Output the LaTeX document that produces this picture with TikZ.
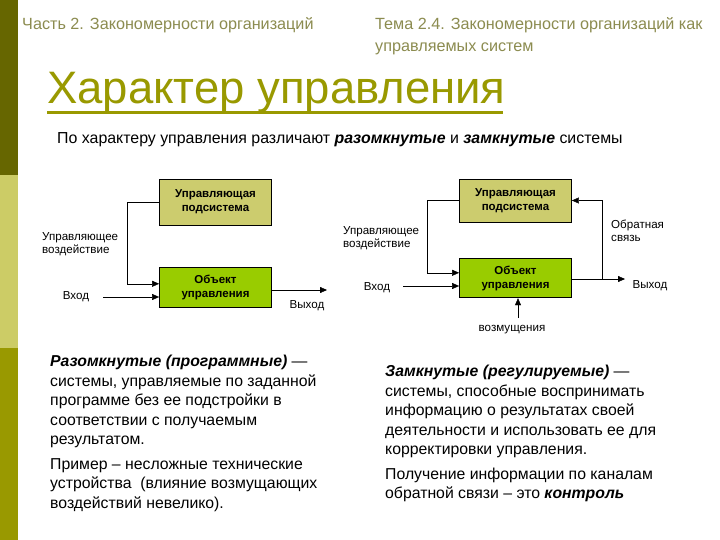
\documentclass[tikz,border=0pt]{standalone}
\usepackage{fontspec}
\setmainfont{Liberation Sans}
\usepackage{xcolor}
\usetikzlibrary{positioning,arrows.meta}
\definecolor{darkolive}{HTML}{666600}
\definecolor{paleolive}{HTML}{CCCC66}
\definecolor{midolive}{HTML}{999900}
\definecolor{boxtan}{HTML}{CCCC6E}
\definecolor{boxgreen}{HTML}{99CC00}
\definecolor{headgrey}{HTML}{8C8C50}

\begin{document}
\begin{tikzpicture}[x=1pt,y=-1pt,>={Triangle[length=7pt,width=6pt]},
  every node/.style={font=\fontsize{11.6}{13.5}\selectfont},
  box/.style={draw=black,line width=0.8pt,minimum width=112pt,minimum height=44pt,align=center,
    font=\fontsize{11.5}{14}\selectfont\bfseries},
  lbl/.style={align=left,inner sep=0pt},
  head/.style={anchor=west,inner sep=0pt,text=headgrey,font=\fontsize{16.2}{22}\selectfont,align=left},
  para/.style={anchor=north west,inner sep=0pt,align=left,font=\fontsize{15.8}{19.5}\selectfont}]
  \useasboundingbox[fill=white] (0,0) rectangle (720,540);

  % side bar
  \fill[darkolive] (0,0) rectangle (18,175);
  \fill[paleolive] (0,175) rectangle (18,348);
  \fill[midolive] (0,348) rectangle (18,540);

  % header
  \node[head] (part) at (22,25) {Часть 2. Закономерности организаций};
  \node[head,anchor=north west] (topic) at (375,17) {Тема 2.4. Закономерности организаций как\\управляемых систем};
  \node[anchor=base west,inner sep=0pt,text=midolive,font=\fontsize{45.5}{50}\selectfont] (title) at (47,104) {Характер управления};
  \draw[midolive,line width=3pt] (47,113) -- (503,113);
  \node[anchor=west,inner sep=0pt,font=\fontsize{15.9}{18}\selectfont] (intro) at (57,140)
    {По характеру управления различают \textbf{\textit{разомкнутые}} и \textbf{\textit{замкнутые}} системы};

  % open loop
  \node[box,fill=boxtan,minimum height=46pt] (ctrlA) at (215.5,202) {Управляющая\\подсистема};
  \node[box,fill=boxgreen,minimum height=40pt,below=42pt of ctrlA] (objA) {Объект\\управления};
  \coordinate (inA) at (103,297);
  \coordinate (outA) at (327,290);
  \draw[->] (ctrlA.west) -- ++(-32,0) |- ([yshift=4pt]objA.west);
  \draw[->] (inA) -- (inA -| objA.west);
  \draw[->] (outA -| objA.east) -- (outA);
  \node[lbl,anchor=west] (actA) at (42,244) {Управляющее\\воздействие};
  \node[lbl] (inlblA) at (76,297) {Вход};
  \node[lbl] (outlblA) at (307,306) {Выход};

  % closed loop
  \node[box,fill=boxtan,minimum height=43pt] (ctrlB) at (515.5,200.5) {Управляющая\\подсистема};
  \node[box,fill=boxgreen,minimum height=39pt,below=36pt of ctrlB] (objB) {Объект\\управления};
  \coordinate (inB) at (403,286);
  \coordinate (outB) at (625,279);
  \coordinate (fbk) at (602,279);
  \coordinate (dist) at (518,318);
  \draw[->] (ctrlB.west) -- ++(-32,0) |- ([yshift=5.5pt]objB.west);
  \draw[->] (inB) -- (inB -| objB.west);
  \draw[->] (outB -| objB.east) -- (outB);
  \draw[->] (fbk) |- (ctrlB.east);
  \draw[->] (dist) -- (dist |- objB.south);
  \node[lbl,anchor=west] (actB) at (343,238) {Управляющее\\воздействие};
  \node[lbl] (inlblB) at (377,288) {Вход};
  \node[lbl] (outlblB) at (650,286) {Выход};
  \node[lbl,anchor=west] (fbklbl) at (611,231) {Обратная\\связь};
  \node[lbl] (distlbl) at (512,330) {возмущения};

  % descriptions
  \node[para] (openTxt) at (50,355) {\textbf{\textit{Разомкнутые (программные)}} —\\
    системы, управляемые по заданной\\
    программе без ее подстройки в\\
    соответствии с получаемым\\
    результатом.\\[5pt]
    Пример – несложные технические\\
    устройства~ (влияние возмущающих\\
    воздействий невелико).};
  \node[para] (closedTxt) at (385,365) {\textbf{\textit{Замкнутые (регулируемые)}} —\\
    системы, способные воспринимать\\
    информацию о результатах своей\\
    деятельности и использовать ее для\\
    корректировки управления.\\[5pt]
    Получение информации по каналам\\
    обратной связи – это \textbf{\textit{контроль}}};
\end{tikzpicture}
\end{document}
